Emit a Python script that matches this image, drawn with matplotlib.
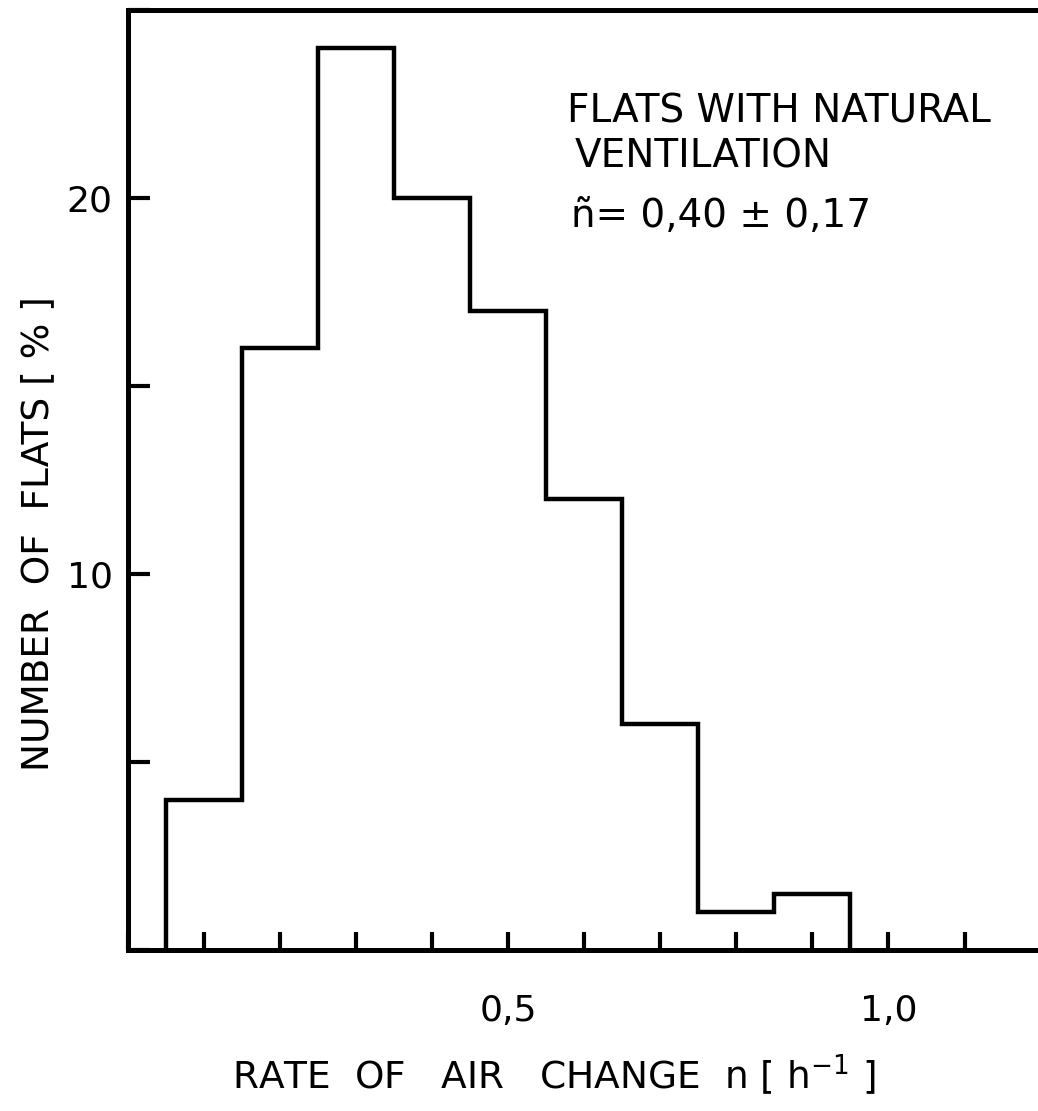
import numpy as np
import matplotlib
matplotlib.use("Agg")
import matplotlib.pyplot as plt
from matplotlib.ticker import MultipleLocator, FixedLocator, FixedFormatter

# ── Datos ────────────────────────────────────────────────────
bin_edges = [0.05, 0.15, 0.25, 0.35, 0.45, 0.55, 0.65, 0.75, 0.85, 0.95]
flats_pct = [4, 16, 24, 20, 17, 12, 6, 1, 1.5]

x_ticks = [0.5, 1.0]
x_ticklabels = ["0,5", "1,0"]
y_ticks = [10, 20]
y_ticklabels = ["10", "20"]

plt.rcParams["font.family"] = ["DejaVu Sans"]

fig = plt.figure(figsize=(10.38, 11.11), dpi=100)
ax = fig.add_axes([0.1233, 0.1449, 0.877, 0.846])

ax.stairs(flats_pct, bin_edges, color="black", linewidth=3.2, baseline=0)

ax.set_xlim(0, 1.197)
ax.set_ylim(0, 25)

# ejes
for side in ["left", "bottom", "top"]:
    ax.spines[side].set_linewidth(3.6)
ax.spines["right"].set_visible(False)

ax.xaxis.set_major_locator(FixedLocator(x_ticks))
ax.xaxis.set_major_formatter(FixedFormatter(x_ticklabels))
ax.xaxis.set_minor_locator(MultipleLocator(0.1))
ax.yaxis.set_major_locator(FixedLocator(y_ticks))
ax.yaxis.set_major_formatter(FixedFormatter(y_ticklabels))
ax.yaxis.set_minor_locator(MultipleLocator(5))

ax.tick_params(axis="x", which="both", direction="in", length=13, width=3,
               labelsize=26, pad=32)
ax.tick_params(axis="y", which="both", direction="in", length=16, width=3,
               labelsize=26, pad=11)

# etiquetas de ejes
fig.text(554 / 1038, 1 - 1075 / 1111, "RATE  OF   AIR   CHANGE  n [ h$^{-1}$ ]",
         fontsize=27, ha="center", va="center")
fig.text(38 / 1038, 1 - 534 / 1111, "NUMBER  OF  FLATS [ % ]",
         fontsize=27, rotation=90, ha="center", va="center")

# anotación
ax.text(0.577, 22.0, "FLATS WITH NATURAL", fontsize=28, va="baseline", ha="left")
ax.text(0.587, 20.82, "VENTILATION", fontsize=28, va="baseline", ha="left")
ax.text(0.582, 19.23, "ñ= 0,40 ± 0,17", fontsize=28, va="baseline", ha="left")

plt.savefig("out.png", dpi=100)
